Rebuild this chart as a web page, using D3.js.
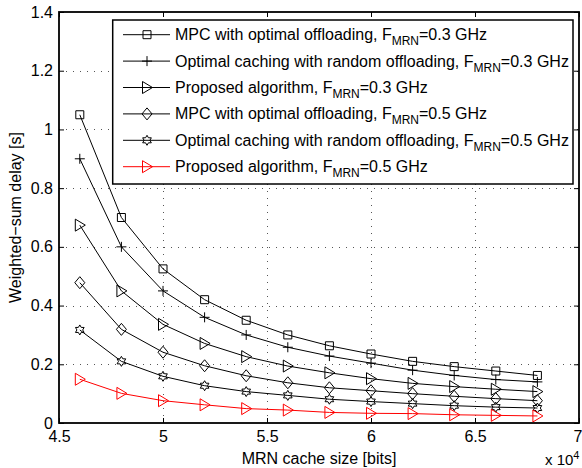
<!DOCTYPE html>
<html>
<head>
<meta charset="utf-8">
<script src="https://cdn.jsdelivr.net/npm/d3@7"></script>
<style>
  html, body { margin: 0; padding: 0; background: #fff; }
  svg { display: block; }
  text { font-family: "Liberation Sans", Arial, Helvetica, sans-serif; fill: #000; }
</style>
</head>
<body>
<svg id="chart" width="582" height="468"></svg>
<script>
// ---- data ----
const cacheSize = [46000, 48000, 50000, 52000, 54000, 56000, 58000, 60000, 62000, 64000, 66000, 68000];
const mpc03  = [1.05, 0.70, 0.525, 0.42, 0.35, 0.30, 0.263, 0.235, 0.21, 0.192, 0.177, 0.162];
const rand03 = [0.90, 0.60, 0.45, 0.36, 0.30, 0.258, 0.228, 0.204, 0.18, 0.162, 0.148, 0.14];
const prop03 = [0.674, 0.45, 0.336, 0.271, 0.226, 0.194, 0.171, 0.151, 0.135, 0.124, 0.115, 0.107];
const mpc05  = [0.478, 0.319, 0.241, 0.195, 0.161, 0.137, 0.120, 0.110, 0.10, 0.091, 0.083, 0.076];
const rand05 = [0.317, 0.21, 0.159, 0.127, 0.107, 0.094, 0.081, 0.073, 0.066, 0.059, 0.054, 0.051];
const prop05 = [0.149, 0.101, 0.076, 0.062, 0.049, 0.044, 0.036, 0.033, 0.032, 0.028, 0.026, 0.024];
const seriesNames = [
  ["MPC with optimal offloading, F", "MRN", "=0.3 GHz"],
  ["Optimal caching with random offloading, F", "MRN", "=0.3 GHz"],
  ["Proposed algorithm, F", "MRN", "=0.3 GHz"],
  ["MPC with optimal offloading, F", "MRN", "=0.5 GHz"],
  ["Optimal caching with random offloading, F", "MRN", "=0.5 GHz"],
  ["Proposed algorithm, F", "MRN", "=0.5 GHz"]
];
const xTicks = [45000, 50000, 55000, 60000, 65000, 70000];
const xTickLabels = ["4.5", "5", "5.5", "6", "6.5", "7"];
const yTicks = [0, 0.2, 0.4, 0.6, 0.8, 1.0, 1.2, 1.4];
const yTickLabels = ["0", "0.2", "0.4", "0.6", "0.8", "1", "1.2", "1.4"];
const xLabel = "MRN cache size [bits]";
const yLabel = "Weighted\u2212sum delay [s]";

// ---- styles ----
const seriesValues = [mpc03, rand03, prop03, mpc05, rand05, prop05];
const markers = ["square", "plus", "triRight", "diamond", "hexagram", "triRight"];
const colors = ["#000", "#000", "#000", "#000", "#000", "#ff0000"];

const L = 59, R = 579, T = 12, B = 423;
const svg = d3.select("#chart");
const x = d3.scaleLinear().domain([45000, 70000]).range([L, R]);
const y = d3.scaleLinear().domain([0, 1.4]).range([B, T]);

// grid
const grid = svg.append("g").attr("stroke", "#555").attr("stroke-width", 1)
  .attr("stroke-dasharray", "1,6");
grid.selectAll(".gx").data(xTicks.slice(1, -1)).join("line")
  .attr("x1", d => Math.round(x(d)) + 0.5).attr("x2", d => Math.round(x(d)) + 0.5)
  .attr("y1", B).attr("y2", T);
grid.selectAll(".gy").data(yTicks.slice(1, -1)).join("line")
  .attr("y1", d => Math.round(y(d)) + 0.5).attr("y2", d => Math.round(y(d)) + 0.5)
  .attr("x1", L).attr("x2", R);

// axes
const fmtX = d => xTickLabels[xTicks.indexOf(d)];
const fmtY = d => yTickLabels[yTicks.findIndex(v => Math.abs(v - d) < 1e-9)];
const axB = svg.append("g").attr("transform", `translate(0,${B})`)
  .call(d3.axisBottom(x).tickValues(xTicks).tickFormat(fmtX).tickSizeInner(-5).tickSizeOuter(0).tickPadding(8));
const axT = svg.append("g").attr("transform", `translate(0,${T})`)
  .call(d3.axisTop(x).tickValues(xTicks).tickFormat("").tickSizeInner(-5).tickSizeOuter(0));
const axL = svg.append("g").attr("transform", `translate(${L},0)`)
  .call(d3.axisLeft(y).tickValues(yTicks).tickFormat(fmtY).tickSizeInner(-5).tickSizeOuter(0).tickPadding(6));
const axR = svg.append("g").attr("transform", `translate(${R},0)`)
  .call(d3.axisRight(y).tickValues(yTicks).tickFormat("").tickSizeInner(-5).tickSizeOuter(0));
[axB, axT, axL, axR].forEach(g => {
  g.select(".domain").remove();
  g.selectAll("line").attr("stroke", "#000").attr("stroke-width", 1);
  g.selectAll("text").attr("font-size", 16).attr("fill", "#000")
    .attr("font-family", "'Liberation Sans', Arial, sans-serif");
});
// keep the last x tick label inside the window
axB.selectAll(".tick text").filter(d => d === 70000)
  .attr("text-anchor", "end").attr("x", 582 - R);

// box
svg.append("rect").attr("x", L).attr("y", T).attr("width", R - L).attr("height", B - T)
  .attr("fill", "none").attr("stroke", "#000").attr("stroke-width", 1.8);

// marker shapes
function markerPath(type) {
  switch (type) {
    case "square": return "M-4,-4H4V4H-4Z";
    case "plus": return "M-5,0H5M0,-5V5";
    case "triRight": return "M-4.5,-6L5.5,0L-4.5,6Z";
    case "diamond": return "M0,-6L5,0L0,6L-5,0Z";
    case "hexagram": {
      const pts = [];
      for (let i = 0; i < 12; i++) {
        const r = i % 2 === 0 ? 5 : 2.9;
        const a = -Math.PI / 2 + i * Math.PI / 6;
        pts.push([r * Math.cos(a), r * Math.sin(a)]);
      }
      return "M" + pts.map(p => p[0].toFixed(2) + "," + p[1].toFixed(2)).join("L") + "Z";
    }
  }
}

// lines and markers
const line = d3.line().x((d, i) => x(cacheSize[i])).y(d => y(d));
seriesValues.forEach((vals, s) => {
  const g = svg.append("g");
  g.append("path").attr("d", line(vals)).attr("fill", "none")
    .attr("stroke", colors[s]).attr("stroke-width", 1);
  g.selectAll("path.m").data(vals).join("path").attr("class", "m")
    .attr("transform", (d, i) => `translate(${x(cacheSize[i])},${y(d)})`)
    .attr("d", markerPath(markers[s]))
    .attr("fill", "none").attr("stroke", colors[s]).attr("stroke-width", 1);
});

// legend
const lg = svg.append("g");
lg.append("rect").attr("x", 112.7).attr("y", 20).attr("width", 460.3).attr("height", 164)
  .attr("fill", "#fff").attr("stroke", "#000").attr("stroke-width", 1.5);
seriesNames.forEach((nm, s) => {
  const ry = 34.7 + s * 26.4;
  lg.append("line").attr("x1", 123).attr("x2", 170).attr("y1", ry).attr("y2", ry)
    .attr("stroke", colors[s]).attr("stroke-width", 1);
  lg.append("path").attr("transform", `translate(147,${ry})`).attr("d", markerPath(markers[s]))
    .attr("fill", "none").attr("stroke", colors[s]).attr("stroke-width", 1);
  const t = lg.append("text").attr("x", 175).attr("y", ry + 5.5).attr("font-size", 16);
  t.append("tspan").text(nm[0]);
  t.append("tspan").attr("font-size", 12).attr("dy", 5).text(nm[1]);
  t.append("tspan").attr("font-size", 16).attr("dy", -5).text(nm[2]);
});

// axis labels
svg.append("text").attr("x", (L + R) / 2).attr("y", 463.5).attr("text-anchor", "middle")
  .attr("font-size", 16).text(xLabel);
svg.append("text").attr("transform", `translate(21,${(T + B) / 2}) rotate(-90)`)
  .attr("text-anchor", "middle").attr("font-size", 16).text(yLabel);
const ex = svg.append("text").attr("x", 545).attr("y", 465).attr("font-size", 15);
ex.append("tspan").text("x 10");
ex.append("tspan").attr("font-size", 11).attr("dy", -6).text("4");
</script>
</body>
</html>
